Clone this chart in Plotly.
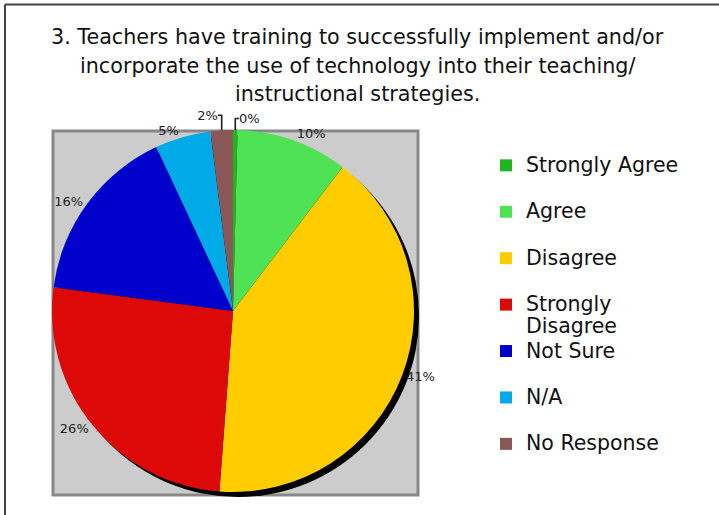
import plotly.graph_objects as go

categories = ["Strongly Agree", "Agree", "Disagree", "Strongly Disagree",
              "Not Sure", "N/A", "No Response"]
values = [0.4, 10, 41, 26, 16, 5, 2]
colors = ["#20b520", "#4fe255", "#ffcc00", "#dd0808", "#0000cc", "#00aae6", "#8b5656"]
title_lines = ["3. Teachers have training to successfully implement and/or",
               "incorporate the use of technology into their teaching/",
               "instructional strategies."]

W, H = 719, 515

def px_x(v):
    return v / W

def px_y(v):
    return 1 - v / H

# legend labels: two text lines per entry so that entries are evenly spaced
SPAN = "<span style='font-size:20.5px'>"
legend_labels = []
for c in categories:
    lines = ["Strongly", "Disagree"] if c == "Strongly Disagree" else [c, " "]
    legend_labels.append("<br>".join(SPAN + l + "</span>" for l in lines))

cx, cy, r = 233, 311, 181
sh = 5
fig = go.Figure()
# drop shadow
fig.add_trace(go.Pie(
    values=[1], labels=["shadow"], marker=dict(colors=["#000000"]),
    textinfo="none", hoverinfo="skip", showlegend=False, sort=False,
    domain=dict(x=[px_x(cx - r + sh), px_x(cx + r + sh)],
                y=[px_y(cy + r + sh), px_y(cy - r + sh)]),
))
fig.add_trace(go.Pie(
    values=values, labels=legend_labels, hovertext=categories,
    marker=dict(colors=colors, line=dict(width=0)),
    sort=False, direction="clockwise", rotation=0,
    texttemplate="%{percent:.0%}", textposition="outside",
    textfont=dict(family="DejaVu Sans", size=13, color="#222222"),
    hoverinfo="text+percent",
    domain=dict(x=[px_x(cx - r), px_x(cx + r)],
                y=[px_y(cy + r), px_y(cy - r)]),
))

shapes = [
    dict(type="rect", xref="paper", yref="paper",
         x0=px_x(53), x1=px_x(418), y0=px_y(495), y1=px_y(131),
         line=dict(color="#888888", width=3), fillcolor="#cccccc", layer="below"),
    dict(type="line", xref="paper", yref="paper",
         x0=px_x(5), x1=px_x(5), y0=px_y(4.5), y1=0,
         line=dict(color="#444444", width=2)),
    dict(type="line", xref="paper", yref="paper",
         x0=px_x(5), x1=1, y0=px_y(4.5), y1=px_y(4.5),
         line=dict(color="#444444", width=2)),
]

title_y = [37, 65.5, 94]
annotations = [dict(
    text=t, xref="paper", yref="paper",
    x=px_x(357), y=px_y(yy), xanchor="center", yanchor="middle",
    showarrow=False, font=dict(size=20.7, family="DejaVu Sans", color="#111111"),
) for t, yy in zip(title_lines, title_y)]

fig.update_layout(
    width=W, height=H, margin=dict(l=0, r=0, t=0, b=0),
    paper_bgcolor="white", plot_bgcolor="white",
    font=dict(family="DejaVu Sans", color="#111111"),
    shapes=shapes,
    annotations=annotations,
    legend=dict(x=px_x(486), y=px_y(148), xanchor="left", yanchor="top",
                font=dict(size=16.7, family="DejaVu Sans", color="#111111"),
                valign="top", bgcolor="rgba(0,0,0,0)"),
)

fig.write_html("out.html", config={"displayModeBar": False},
               post_script="document.body.style.margin='0px';")
